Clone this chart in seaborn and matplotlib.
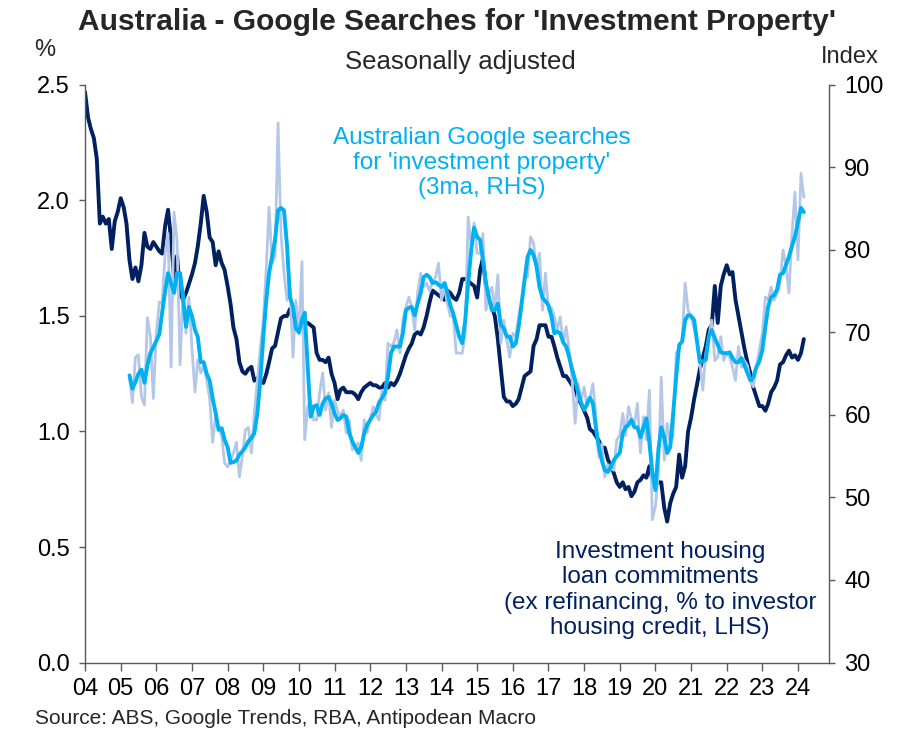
import matplotlib
matplotlib.use("Agg")
import matplotlib.pyplot as plt
import pandas as pd
import seaborn as sns

# investment housing loan commitments, % of investor housing credit (LHS)
# monthly, Jan 2004 .. Mar 2024
loans_pct = [
    2.47, 2.36, 2.31, 2.27, 2.18, 1.90, 1.93, 1.90, 1.92, 1.79, 1.91, 1.95,  # 2004
    2.01, 1.97, 1.90, 1.74, 1.66, 1.71, 1.65, 1.72, 1.86, 1.80, 1.79, 1.82,  # 2005
    1.80, 1.78, 1.77, 1.89, 1.96, 1.83, 1.67, 1.76, 1.60, 1.57, 1.60, 1.64,  # 2006
    1.68, 1.73, 1.80, 1.90, 2.02, 1.95, 1.84, 1.82, 1.72, 1.78, 1.73, 1.70,  # 2007
    1.63, 1.55, 1.45, 1.40, 1.30, 1.26, 1.25, 1.27, 1.28, 1.22, 1.23, 1.22,  # 2008
    1.21, 1.25, 1.30, 1.36, 1.37, 1.43, 1.49, 1.50, 1.50, 1.53, 1.50, 1.51,  # 2009
    1.47, 1.46, 1.47, 1.47, 1.46, 1.45, 1.34, 1.31, 1.31, 1.30, 1.32, 1.25,  # 2010
    1.21, 1.14, 1.18, 1.19, 1.17, 1.17, 1.17, 1.16, 1.14, 1.17, 1.19, 1.20,  # 2011
    1.21, 1.20, 1.20, 1.19, 1.19, 1.21, 1.19, 1.21, 1.20, 1.22, 1.25, 1.29,  # 2012
    1.33, 1.36, 1.38, 1.42, 1.43, 1.42, 1.45, 1.50, 1.56, 1.61, 1.60, 1.59,  # 2013
    1.58, 1.57, 1.61, 1.60, 1.58, 1.57, 1.60, 1.66, 1.66, 1.65, 1.64, 1.63,  # 2014
    1.58, 1.70, 1.75, 1.63, 1.57, 1.54, 1.50, 1.40, 1.27, 1.15, 1.13, 1.13,  # 2015
    1.11, 1.12, 1.14, 1.19, 1.24, 1.25, 1.26, 1.37, 1.40, 1.46, 1.46, 1.46,  # 2016
    1.41, 1.41, 1.37, 1.32, 1.28, 1.24, 1.24, 1.22, 1.20, 1.19, 1.14, 1.12,  # 2017
    1.09, 1.06, 1.01, 1.00, 0.98, 0.96, 0.93, 0.93, 0.88, 0.85, 0.82, 0.78,  # 2018
    0.76, 0.78, 0.75, 0.76, 0.72, 0.74, 0.78, 0.79, 0.81, 0.80, 0.85, 0.79,  # 2019
    0.77, 0.78, 0.78, 0.67, 0.61, 0.69, 0.73, 0.76, 0.90, 0.80, 0.85, 1.00,  # 2020
    1.06, 1.14, 1.20, 1.27, 1.32, 1.37, 1.44, 1.46, 1.63, 1.47, 1.63, 1.68,  # 2021
    1.72, 1.68, 1.69, 1.57, 1.50, 1.43, 1.36, 1.30, 1.25, 1.19, 1.15, 1.11,  # 2022
    1.11, 1.09, 1.12, 1.17, 1.19, 1.22, 1.29, 1.30, 1.33, 1.35, 1.32, 1.33,  # 2023
    1.31, 1.34, 1.40,                                                        # 2024
]

# google searches for 'investment property', index (RHS), monthly Apr 2005 .. Mar 2024
searches_raw = [
    64.6, 61.5, 67.0, 67.3, 62.2, 61.2, 71.8, 69.5, 62.0, 70.0,
    73.7, 73.5, 79.6, 82.0, 65.8, 84.6, 81.2, 66.1, 74.8, 69.9, 74.3, 68.0,
    62.8, 66.7, 65.1, 66.0, 64.2, 62.0, 56.7, 60.0, 58.4, 57.5, 54.2, 53.7,
    54.5, 55.4, 56.7, 52.5, 55.0, 58.2, 58.5, 55.4, 60.2, 64.2, 68.0, 71.5,
    78.0, 85.2, 78.4, 79.2, 95.4, 82.0, 77.2, 73.9, 75.5, 67.0, 73.9, 69.9,
    78.6, 57.0, 61.0, 61.8, 59.4, 59.4, 62.7, 65.1, 60.6, 62.7, 58.5, 61.8,
    60.5, 59.8, 60.6, 57.8, 59.4, 55.8, 56.2, 56.6, 54.5, 59.4, 57.8, 59.5,
    61.0, 60.0, 59.4, 63.0, 61.8, 68.7, 68.3, 68.8, 70.3, 67.5, 71.5, 73.1,
    74.3, 73.1, 70.3, 74.8, 77.2, 75.5, 76.0, 75.0, 76.2, 76.7, 78.4, 73.9,
    75.5, 73.5, 72.0, 71.9, 67.5, 67.5, 67.5, 69.9, 84.0, 80.4, 83.3, 79.6,
    79.6, 82.0, 72.7, 74.8, 75.5, 72.7, 77.0, 68.7, 71.5, 69.1, 67.0, 69.9,
    69.5, 71.9, 74.0, 76.7, 76.7, 81.6, 80.8, 77.6, 79.6, 72.7, 77.2, 72.7,
    73.0, 72.0, 70.3, 71.9, 68.7, 70.7, 67.9, 64.0, 59.0, 63.8, 61.8, 63.4,
    61.0, 62.0, 63.8, 60.0, 54.9, 56.5, 52.5, 54.0, 53.5, 53.3, 57.0, 57.5,
    60.2, 57.5, 61.0, 59.5, 59.0, 61.4, 55.4, 59.8, 57.0, 63.0, 47.3, 48.9,
    53.0, 64.6, 54.5, 59.0, 56.5, 57.5, 67.5, 68.2, 69.1, 76.0, 72.7, 72.0,
    70.5, 69.1, 66.4, 63.0, 67.5, 69.5, 71.5, 66.6, 67.0, 69.5, 66.6, 67.5,
    67.0, 65.8, 64.2, 68.3, 65.8, 66.6, 66.0, 64.2, 63.4, 65.8, 67.9, 69.9,
    74.3, 73.9, 75.5, 73.9, 74.7, 76.0,
    80.0, 78.0, 74.8, 82.0, 87.0, 78.8, 89.3, 86.4,
]

searches_3ma = [
    64.8, 63.2, 64.0, 65.0, 65.5, 63.9, 66.0, 67.5, 68.2,                    # 2005
    69.0, 69.8, 72.4, 75.0, 77.2, 76.0, 74.8, 77.2, 77.2, 74.3, 70.7, 73.1,  # 2006
    72.0, 70.3, 69.5, 66.4, 66.4, 65.0, 64.2, 62.0, 60.2, 58.2, 58.4, 57.0,  # 2007
    56.1, 54.2, 54.3, 54.5, 55.2, 55.6, 56.1, 56.8, 57.2, 57.8, 60.2, 64.2,  # 2008
    69.5, 74.0, 77.2, 79.2, 81.2, 84.8, 85.1, 84.8, 80.5, 74.3, 73.1, 70.5,  # 2009
    70.0, 71.5, 72.4, 65.8, 59.8, 61.0, 61.2, 60.0, 61.4, 62.0, 62.2, 61.4,  # 2010
    60.2, 59.4, 59.6, 60.0, 59.8, 57.8, 56.8, 56.1, 55.4, 56.1, 57.8, 58.8,  # 2011
    59.4, 60.0, 60.4, 61.5, 62.1, 62.7, 64.6, 67.5, 68.3, 68.3, 68.3, 69.9,  # 2012
    72.7, 73.0, 73.1, 72.1, 73.5, 74.8, 76.7, 77.0, 76.7, 76.0, 76.1, 75.8,  # 2013
    75.5, 76.0, 74.9, 73.3, 72.3, 70.9, 69.5, 68.7, 71.5, 76.0, 80.0, 82.7,  # 2014
    81.6, 81.2, 78.8, 76.0, 74.3, 72.7, 72.7, 73.5, 70.9, 70.5, 69.5, 69.5,  # 2015
    68.3, 68.7, 70.7, 73.5, 76.4, 79.2, 80.0, 79.4, 78.0, 75.5, 74.2, 73.8,  # 2016
    73.3, 71.9, 69.9, 70.1, 69.9, 68.8, 68.3, 67.0, 65.5, 64.2, 62.7, 61.5,  # 2017
    60.6, 61.4, 62.1, 61.4, 58.5, 56.1, 54.5, 53.3, 53.1, 53.7, 54.5, 55.0,  # 2018
    55.4, 57.8, 58.5, 58.8, 59.4, 58.5, 58.5, 57.3, 58.5, 59.6, 56.6, 53.0,  # 2019
    50.9, 55.8, 58.5, 57.3, 55.4, 56.1, 60.2, 64.6, 68.5, 68.9, 71.5, 72.1,  # 2020
    72.0, 71.5, 69.1, 66.4, 66.5, 66.7, 69.5, 70.3, 69.3, 68.5, 67.6, 67.5,  # 2021
    67.5, 67.6, 66.9, 66.4, 66.4, 66.9, 66.0, 65.1, 64.2, 64.6, 65.8, 66.5,  # 2022
    67.9, 70.7, 73.1, 74.3, 74.5, 75.2, 77.0, 77.2, 78.2, 79.2, 80.5, 81.6,  # 2023
    83.4, 85.1, 84.6,                                                        # 2024
]

left_ticks = [0.0, 0.5, 1.0, 1.5, 2.0, 2.5]
right_ticks = [30, 40, 50, 60, 70, 80, 90, 100]
years = list(range(2004, 2025))

NAVY = "#002060"
CYAN = "#00B0F0"
LILAC = "#B4C7E7"
AXIS = "#595959"

loans = pd.DataFrame({
    "date": pd.date_range("2004-01-01", periods=len(loans_pct), freq="MS"),
    "value": loans_pct,
})
google = pd.DataFrame({
    "date": pd.date_range("2005-04-01", periods=len(searches_raw), freq="MS"),
    "raw": searches_raw,
    "ma3": searches_3ma,
})

sns.set_theme(style="white")
plt.rcParams["font.family"] = ["Liberation Sans", "DejaVu Sans"]

W, H = 899, 737
fig = plt.figure(figsize=(W / 100, H / 100), dpi=100)
ax = fig.add_axes([85 / W, 1 - 662.5 / H, (829 - 85) / W, (662.5 - 85) / H])
ax2 = ax.twinx()

sns.lineplot(data=loans, x="date", y="value", ax=ax, color=NAVY, linewidth=2.8)
sns.lineplot(data=google, x="date", y="raw", ax=ax2, color=LILAC, linewidth=2.0)
sns.lineplot(data=google, x="date", y="ma3", ax=ax2, color=CYAN, linewidth=2.8)

ax.set_xlim(pd.Timestamp("2004-01-01"), pd.Timestamp("2024-11-14"))
ax.set_ylim(0, 2.5)
ax2.set_ylim(30, 100)

ax.set_xticks([pd.Timestamp(f"{y}-01-01") for y in years])
ax.set_xticklabels([f"{y % 100:02d}" for y in years])
ax.set_yticks(left_ticks)
ax.set_yticklabels([f"{v:.1f}" for v in left_ticks])
ax2.set_yticks(right_ticks)
ax2.set_yticklabels([str(v) for v in right_ticks])

for a in (ax, ax2):
    a.set_xlabel("")
    a.set_ylabel("")
    a.grid(False)
    for s in a.spines.values():
        s.set_visible(False)
ax.spines["left"].set_visible(True)
ax.spines["bottom"].set_visible(True)
ax2.spines["right"].set_visible(True)
for s in (ax.spines["left"], ax.spines["bottom"], ax2.spines["right"]):
    s.set_color(AXIS)
    s.set_linewidth(1.0)

ax.tick_params(axis="x", bottom=True, direction="out", length=6, width=1,
               color=AXIS, labelsize=17, pad=5, labelcolor="black")
ax.tick_params(axis="y", left=True, direction="out", length=4, width=1,
               color=AXIS, labelsize=17, pad=7, labelcolor="black")
ax2.tick_params(axis="y", right=True, direction="out", length=4, width=1,
                color=AXIS, labelsize=17, pad=7, labelcolor="black")

fig.text(457 / W, 1 - 22 / H, "Australia - Google Searches for 'Investment Property'",
         ha="center", va="center", fontsize=21.5, fontweight="bold")
fig.text(460 / W, 1 - 62 / H, "Seasonally adjusted", ha="center", va="center", fontsize=18.5)
fig.text(45 / W, 1 - 50 / H, "%", ha="center", va="center", fontsize=17)
fig.text(850 / W, 1 - 57 / H, "Index", ha="center", va="center", fontsize=17)

fig.text(482 / W, 1 - 163 / H,
         "Australian Google searches\nfor 'investment property'\n(3ma, RHS)",
         ha="center", va="center", multialignment="center", fontsize=17.5,
         color=CYAN, linespacing=1.2)
fig.text(660 / W, 1 - 590 / H,
         "Investment housing\nloan commitments\n(ex refinancing, % to investor\nhousing credit, LHS)",
         ha="center", va="center", multialignment="center", fontsize=17.5,
         color=NAVY, linespacing=1.2)

fig.text(35 / W, 1 - 718 / H, "Source: ABS, Google Trends, RBA, Antipodean Macro",
         ha="left", va="center", fontsize=15)

fig.savefig("out.png", dpi=100)
